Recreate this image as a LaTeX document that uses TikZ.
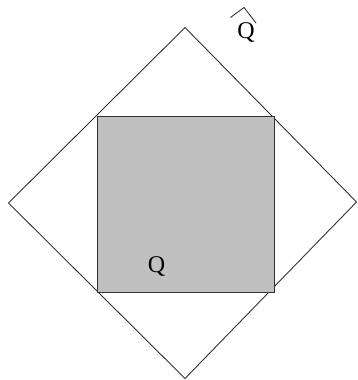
\documentclass[tikz,border=0pt]{standalone}
\usepackage{fontspec}
\setmainfont{Liberation Serif}
\begin{document}
\begin{tikzpicture}[x=1pt,y=-1pt,
  edge/.style={draw=black!80,line width=0.9pt,line join=miter},
  lbl/.style={font=\fontsize{24}{24}\selectfont,inner sep=0pt,anchor=base}]
\useasboundingbox (0,0) rectangle (357,380);
\coordinate (dt) at (185,27.5);
\coordinate (dl) at (8.5,203);
\coordinate (db) at (185,378.5);
\coordinate (dr) at (356.5,202);
\draw[edge] (dt) -- (dr) -- (db) -- (dl) -- cycle;
\coordinate (s1) at (97.3,116.3);
\coordinate (s3) at (274,292.3);
\draw[edge,fill={rgb,255:red,192;green,192;blue,192}] (s1) rectangle (s3);
\node[lbl] (q) at (156.5,272.5) {Q};
\node[lbl] (qh) at (246,38) {Q};
\coordinate (h1) at (230.5,17.5);
\coordinate (h2) at (244,7.5);
\coordinate (h3) at (256,23);
\draw[black!80,line width=0.9pt] (h1) -- (h2) -- (h3);
\end{tikzpicture}
\end{document}
